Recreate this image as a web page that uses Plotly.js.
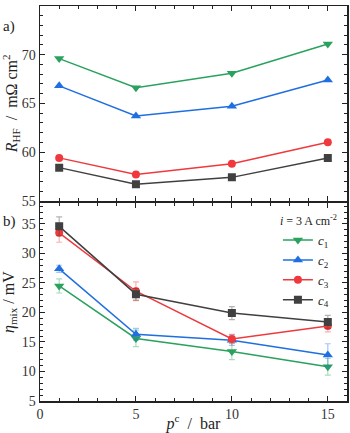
<!DOCTYPE html>
<html><head><meta charset="utf-8">
<script src="https://cdn.plot.ly/plotly-3.0.1.min.js"></script>
<style>html,body{margin:0;padding:0;background:#fff}#g{width:350px;height:433px}</style>
</head><body><div id="g"></div>
<script>
var pressure = [1, 5, 10, 15];
var rhf_c1 = [69.6, 66.6, 68.1, 71.1];
var rhf_c2 = [66.8, 63.7, 64.7, 67.4];
var rhf_c3 = [59.4, 57.7, 58.8, 61.0];
var rhf_c4 = [58.4, 56.7, 57.4, 59.4];
var eta_c1 = [24.5, 15.6, 13.4, 10.8];
var eta_c2 = [27.4, 16.3, 15.3, 12.8];
var eta_c3 = [33.5, 23.6, 15.5, 17.7];
var eta_c4 = [34.6, 23.1, 19.9, 18.4];
var err_c1 = [1.2, 1.4, 1.4, 1.4];
var err_c2 = [0.6, 1.0, 0.9, 1.9];
var err_c3 = [1.6, 1.6, 0.8, 1.0];
var err_c4 = [1.6, 1.0, 1.1, 1.1];
var legendTitle = '<i>i</i> = 3 A cm<sup>-2</sup>';

var colors = ['#2aa25e', '#1f6fe0', '#f0393c', '#404040'];
var errColors = ['rgba(42,162,94,0.4)', 'rgba(31,111,224,0.4)', 'rgba(240,57,60,0.4)', 'rgba(64,64,64,0.4)'];
var symbols = ['triangle-down', 'triangle-up', 'circle', 'square'];
var sizes = [9, 9, 8, 8];
var rhf = [rhf_c1, rhf_c2, rhf_c3, rhf_c4];
var eta = [eta_c1, eta_c2, eta_c3, eta_c4];
var errs = [err_c1, err_c2, err_c3, err_c4];

var traces = [];
for (var i = 0; i < 4; i++) {
  traces.push({x: pressure, y: rhf[i], xaxis: 'x', yaxis: 'y', mode: 'lines+markers', showlegend: false,
    line: {color: colors[i], width: 1.5}, marker: {color: colors[i], symbol: symbols[i], size: sizes[i]}});
}
for (var i = 0; i < 4; i++) {
  traces.push({x: pressure, y: eta[i], xaxis: 'x2', yaxis: 'y2', mode: 'lines+markers',
    name: '<i>c</i><sub>' + (i+1) + '</sub>',
    error_y: {type: 'data', array: errs[i], visible: true, color: errColors[i], thickness: 1.2, width: 3},
    line: {color: colors[i], width: 1.5}, marker: {color: colors[i], symbol: symbols[i], size: sizes[i]}});
}

var FF = '"Liberation Serif", "Times New Roman", Times, serif';
var font = {family: FF, size: 14, color: '#222'};
var common = {ticks: 'inside', ticklen: 5, tickwidth: 1, tickcolor: '#222', showline: true, linewidth: 1.5,
  linecolor: '#222', mirror: 'allticks', showgrid: false, zeroline: false, automargin: false,
  tickfont: {family: FF, size: 14, color: '#333'},
  minor: {ticks: 'inside', ticklen: 3, dtick: 1, tickcolor: '#222', showgrid: false}};

var layout = {
  width: 350, height: 433, margin: {l: 40, r: 3, t: 6, b: 32, autoexpand: false},
  paper_bgcolor: '#fff', plot_bgcolor: '#fff', font: font,
  xaxis: Object.assign({}, common, {domain: [0, 1], range: [0, 16], dtick: 5, anchor: 'y', showticklabels: false}),
  yaxis: Object.assign({}, common, {domain: [0.507, 1], range: [55, 75], dtick: 5, anchor: 'x',
    title: {text: '<i>R</i><sub>HF</sub>  /  mΩ cm<sup>2</sup>', font: {family: FF, size: 16}, standoff: 6}}),
  xaxis2: Object.assign({}, common, {domain: [0, 1], range: [0, 16], dtick: 5, anchor: 'y2',
    title: {text: '<i>p</i><sup>c</sup>  /  bar', font: {family: FF, size: 16}, standoff: 2}}),
  yaxis2: Object.assign({}, common, {domain: [0, 0.5005], range: [5, 38.5], dtick: 5, anchor: 'x2',
    title: {text: '<i>η</i><sub>mix</sub> / mV', font: {family: FF, size: 16}, standoff: 6}}),
  legend: {x: 0.775, y: 0.485, xanchor: 'left', yanchor: 'top', yref: 'paper', xref: 'paper',
    bgcolor: 'rgba(0,0,0,0)', font: {family: FF, size: 13}, itemwidth: 30, tracegroupgap: 0,
    title: {text: legendTitle, font: {family: FF, size: 12}, side: 'top'}},
  annotations: [
    {text: 'a)', xref: 'paper', yref: 'paper', x: -0.128, y: 0.975, showarrow: false, xanchor: 'left', font: {family: FF, size: 15}},
    {text: 'b)', xref: 'paper', yref: 'paper', x: -0.128, y: 0.455, showarrow: false, xanchor: 'left', font: {family: FF, size: 15}}
  ]
};
Plotly.newPlot('g', traces, layout, {displayModeBar: false, staticPlot: true});
</script></body></html>
